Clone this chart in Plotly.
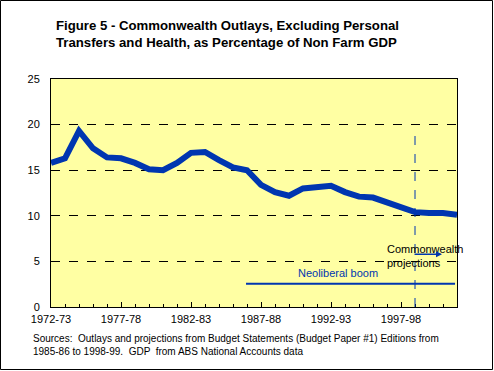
import plotly.graph_objects as go

years = ["1972-73","1973-74","1974-75","1975-76","1976-77","1977-78","1978-79","1979-80",
         "1980-81","1981-82","1982-83","1983-84","1984-85","1985-86","1986-87","1987-88",
         "1988-89","1989-90","1990-91","1991-92","1992-93","1993-94","1994-95","1995-96",
         "1996-97","1997-98","1998-99","1999-00","2000-01","2001-02"]
outlays = [15.8, 16.3, 19.3, 17.4, 16.4, 16.3, 15.8, 15.1, 15.0, 15.8,
           16.9, 17.0, 16.1, 15.3, 15.0, 13.4, 12.6, 12.2, 13.0, 13.2,
           13.3, 12.6, 12.1, 12.0, 11.5, 10.9, 10.4, 10.3, 10.3, 10.1]
tick_labels = ["1972-73", "1977-78", "1982-83", "1987-88", "1992-93", "1997-98"]
y_ticks = [0, 5, 10, 15, 20, 25]

BLUE = "#0036B0"
YELLOW = "#FFFFA3"
FONT = "Liberation Sans, Arial, sans-serif"

xs = list(range(len(years)))
tick_pos = [years.index(t) for t in tick_labels]
proj_idx = years.index("1998-99")

fig = go.Figure()
fig.add_trace(go.Scatter(x=xs, y=outlays, mode="lines",
                         line=dict(color=BLUE, width=6), hoverinfo="skip",
                         showlegend=False))

fig.update_layout(
    width=494, height=371,
    margin=dict(l=51, r=37, t=79, b=64),
    paper_bgcolor="white", plot_bgcolor=YELLOW,
    font=dict(family=FONT, size=11, color="black"),
    showlegend=False,
)
fig.update_xaxes(range=[0, len(years) - 1], tickvals=tick_pos, ticktext=tick_labels,
                 ticks="inside", ticklen=5, tickcolor="black", showgrid=False,
                 showline=True, linecolor="black", linewidth=1, mirror=True,
                 zeroline=False, tickfont=dict(size=11), ticklabelstandoff=2,
                 minor=dict(dtick=1, tick0=0, ticks="inside", ticklen=3, tickcolor="black"))
fig.update_yaxes(range=[0, 25], tickvals=y_ticks, ticks="", showgrid=True,
                 gridcolor="black", griddash="dash", gridwidth=1,
                 showline=True, linecolor="black", linewidth=1, mirror=True,
                 zeroline=False, tickfont=dict(size=11), ticklabelstandoff=8)

# projection marker line
fig.add_shape(type="line", xref="x", yref="y", x0=proj_idx, x1=proj_idx, y0=0, y1=19.6,
              line=dict(color=BLUE, width=1, dash="dash"))
# Neoliberal boom bar
fig.add_shape(type="line", xref="x", yref="y", x0=13.93, x1=28.86, y0=2.55, y1=2.55,
              line=dict(color=BLUE, width=2))
fig.add_annotation(x=20.5, y=3.76, xref="x", yref="y", text="Neoliberal boom",
                   showarrow=False, font=dict(color=BLUE, size=11))
fig.add_annotation(x=23.85, y=5.55, xref="x", yref="y",
                   text="Commonwealth<br>projections", showarrow=False,
                   xanchor="left", align="left", font=dict(size=11))
fig.add_annotation(x=27.93, y=5.78, ax=25.86, ay=5.78, xref="x", yref="y",
                   axref="x", ayref="y", text="", showarrow=True,
                   arrowhead=2, arrowsize=0.8, arrowwidth=1.5, arrowcolor=BLUE)

W, H = 406, 228
def px(x):
    return (x - 51) / W
def py(y):
    return (307 - y) / H

# Title
fig.add_annotation(x=px(54), y=py(34), xref="paper", yref="paper",
                   text="<b>Figure 5 - Commonwealth Outlays, Excluding Personal<br>Transfers and Health, as Percentage of Non Farm GDP</b>",
                   showarrow=False, xanchor="left", yanchor="middle", align="left",
                   font=dict(size=13.2))
fig.add_annotation(x=px(31), y=py(345), xref="paper", yref="paper",
                   text="Sources:  Outlays and projections from Budget Statements (Budget Paper #1) Editions from<br>1985-86 to 1998-99.  GDP  from ABS National Accounts data",
                   showarrow=False, xanchor="left", yanchor="middle", align="left",
                   font=dict(size=10))
# Outer border
fig.add_shape(type="rect", xref="paper", yref="paper",
              x0=px(0.5), x1=px(492.5), y0=py(0.5), y1=py(369.5),
              line=dict(color="black", width=1), fillcolor="rgba(0,0,0,0)")

fig.write_html("out.html", config={"displayModeBar": False},
               post_script="document.body.style.margin='0px';")
